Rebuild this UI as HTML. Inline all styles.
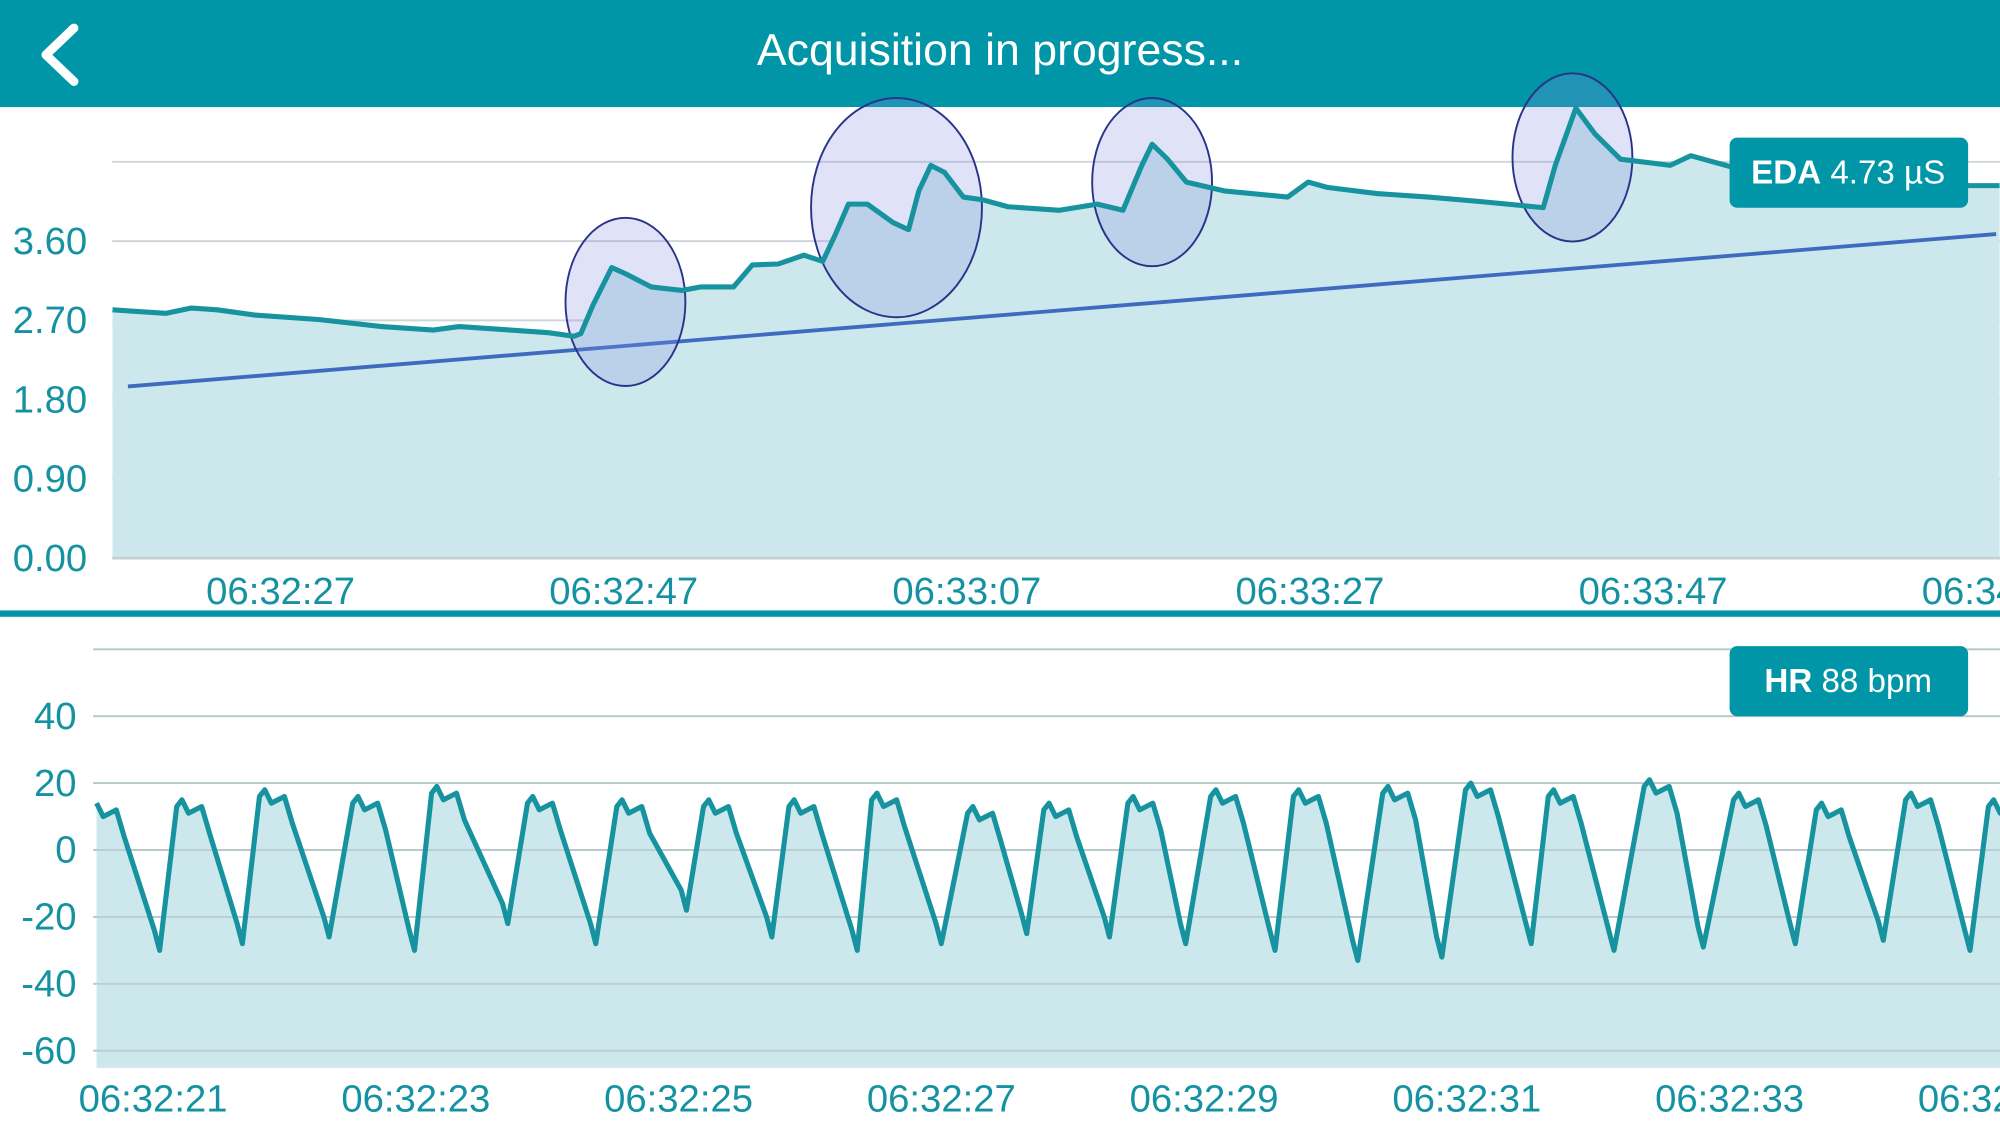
<!DOCTYPE html>
<html><head><meta charset="utf-8">
<style>
html,body{margin:0;padding:0;background:#fff;overflow:hidden}
svg{display:block}
text{font-family:"Liberation Sans",sans-serif}
</style></head>
<body>
<svg id="root" width="2000" height="1124" viewBox="0 0 1568 882" preserveAspectRatio="none" xmlns="http://www.w3.org/2000/svg">
  <rect x="0" y="0" width="1568" height="84" fill="#0096a7"/>
  <path d="M58 22 L36 43 L58 64" stroke="#fff" stroke-width="7" fill="none" stroke-linecap="round" stroke-linejoin="round"/>
  <text x="784" y="51" text-anchor="middle" fill="#fff" font-size="35">Acquisition in progress...</text>
  <g id="eda"></g>
  <rect x="0" y="479" width="1568" height="5" fill="#0096a7"/>
  <g id="hr"></g>
</svg>
<script>
// ---- EDA data (seconds after 06:32:00, value µS) ----
const edaTimes = [17.2,20.3,21.8,23.3,25.5,29.2,32.9,35.9,37.4,40.4,42.6,44.1,44.5,45.2,46.3,47.1,48.6,50.4,51.5,53.4,54.5,56.0,57.5,58.6,59.3,60.1,61.2,62.7,63.6,64.2,64.9,65.7,66.8,67.9,69.4,72.4,74.6,76.1,77.2,77.8,78.7,79.8,82.0,85.7,86.9,88.0,90.9,93.9,96.9,100.6,101.3,102.5,103.6,105.1,108.0,109.2,110.3,111.8,114.7,118.4,122.2,125.1,127.2];
const edaValues = [2.82,2.78,2.84,2.82,2.76,2.71,2.63,2.59,2.63,2.59,2.56,2.52,2.55,2.87,3.30,3.23,3.08,3.04,3.08,3.08,3.33,3.34,3.44,3.37,3.66,4.02,4.02,3.81,3.73,4.17,4.46,4.38,4.10,4.07,3.99,3.95,4.02,3.95,4.46,4.70,4.53,4.27,4.17,4.10,4.27,4.21,4.14,4.10,4.05,3.98,4.46,5.11,4.82,4.53,4.46,4.57,4.51,4.43,4.31,4.27,4.27,4.23,4.23];
const edaTrendTimes = [18.1,127.0];
const edaTrendValues = [1.95,3.68];
const edaEventTimes = [47.1,62.9,77.8,102.3];
const edaEventValues = [2.91,3.98,4.27,4.55];
const edaYTicks = [0,0.9,1.8,2.7,3.6,4.5];
const edaYLabels = ["0.00","0.90","1.80","2.70","3.60",""];
const edaXTicks = [27,47,67,87,107,127];
const edaXLabels = ["06:32:27","06:32:47","06:33:07","06:33:27","06:33:47","06:34:07"];
// ---- HR data (seconds after 06:32:00) ----
const hrStartTime = 20.53, hrStartValue = 12;
const hrPeakTimes = [20.59,21.24,21.87,22.58,23.18,23.91,24.59,25.25,25.90,26.53,27.26,27.84,28.48,29.11,29.74,30.42,31.05,31.68,32.41,33.09,33.72,34.40,35.03];
const hrPeakValues = [14,15,18,16,19,16,15,15,15,17,13,14,16,18,18,19,20,18,21,17,14,17,15];
const hrTroughTimes = [21.05,21.68,22.34,22.99,23.70,24.37,25.06,25.71,26.36,27.00,27.65,28.28,28.86,29.54,30.17,30.81,31.49,32.12,32.80,33.50,34.17,34.83];
const hrTroughValues = [-30,-28,-26,-30,-22,-28,-18,-26,-30,-28,-25,-26,-28,-30,-33,-32,-28,-30,-29,-28,-27,-30,-35];
const hrYTicks = [-60,-40,-20,0,20,40,60];
const hrYLabels = ["-60","-40","-20","0","20","40",""];
const hrXTicks = [21,23,25,27,29,31,33,35];
const hrXLabels = ["06:32:21","06:32:23","06:32:25","06:32:27","06:32:29","06:32:31","06:32:33","06:32:35"];

const NS="http://www.w3.org/2000/svg";
const TEAL="#17939f", LABEL="#1592a2", FILL="#cde8ec", GRID="#cfd6d8";
function mk(parent,tag,attrs){const e=document.createElementNS(NS,tag);for(const k in attrs)e.setAttribute(k,attrs[k]);parent.appendChild(e);return e;}

// EDA
(function(){
  const g=document.getElementById('eda');
  const x=t=>220+(t-27)*13.45, y=v=>438-v/0.9*62.2;
  const L=88,R=1568;
  edaYTicks.forEach((v,i)=>{
    const l=mk(g,'line',{x1:L,x2:R,y1:y(v),y2:y(v),stroke:GRID,'stroke-width':1.5});
    
    
    if(edaYLabels[i]){const t=mk(g,'text',{x:10,y:y(v)+10,fill:LABEL,'font-size':30});t.textContent=edaYLabels[i];
      
      }
  });
  let d=`M${x(edaTimes[0])},${y(0)}`;edaTimes.forEach((t,i)=>d+=` L${x(t)},${y(edaValues[i])}`);
  d+=` L${x(edaTimes[edaTimes.length-1])},${y(0)} Z`;
  const area=mk(g,'path',{d:d,fill:FILL});
  
  
  const tr=mk(g,'line',{x1:x(edaTrendTimes[0]),y1:y(edaTrendValues[0]),x2:x(edaTrendTimes[1]),y2:y(edaTrendValues[1]),stroke:'#3e6bc0','stroke-width':3});
  
  
  edaEventTimes.forEach((t,i)=>{
    const big=i===1;
    const e=mk(g,'ellipse',{cx:x(t),cy:y(edaEventValues[i]),rx:big?67:47,ry:big?86:66,fill:'rgba(130,140,225,0.25)',stroke:'#28338a','stroke-width':1.5});
    
    
  });
  let ld='';edaTimes.forEach((t,i)=>ld+=(i?' L':'M')+x(t)+','+y(edaValues[i]));
  const line=mk(g,'path',{d:ld,fill:'none',stroke:TEAL,'stroke-width':4,'stroke-linejoin':'round'});
  
  
  const ax=mk(g,'line',{x1:L,x2:R,y1:438,y2:438,stroke:'#c5cfd2','stroke-width':2});
  
  
  edaXTicks.forEach((t,i)=>{const e=mk(g,'text',{x:x(t),y:474,'text-anchor':'middle',fill:LABEL,'font-size':30});e.textContent=edaXLabels[i];
    
    });
  const b=mk(g,'rect',{x:1356,y:108,width:187,height:55,rx:6,fill:'#0096a7'});
  
  
  const bt=mk(g,'text',{x:1449,y:144,'text-anchor':'middle',fill:'#fff','font-size':26});
  bt.innerHTML='<tspan font-weight="bold">EDA</tspan> 4.73 µS';
  
  
})();

// HR
(function(){
  const g=document.getElementById('hr');
  const x=t=>120+(t-21)*103, y=v=>667-v/20*52.5;
  const L=73,R=1568,B=838;
  hrYTicks.forEach((v,i)=>{
    const l=mk(g,'line',{x1:L,x2:R,y1:y(v),y2:y(v),stroke:GRID,'stroke-width':1.5});
    
    
    if(hrYLabels[i]){const t=mk(g,'text',{x:60,y:y(v)+10,'text-anchor':'end',fill:LABEL,'font-size':30});t.textContent=hrYLabels[i];
      
      }
  });
  const pts=[[hrStartTime,hrStartValue]];
  hrPeakTimes.forEach((T,i)=>{
    const p=hrPeakValues[i];
    pts.push([T-0.06,p-2],[T-0.02,p],[T+0.03,p-4],[T+0.08,p-3],[T+0.13,p-2],[T+0.19,p-10]);
    if(i<hrTroughTimes.length)pts.push([hrTroughTimes[i]-0.04,hrTroughValues[i]+6],[hrTroughTimes[i],hrTroughValues[i]]);
  });
  const f=pts.filter(p=>x(p[0])>=L-1);
  const clip=mk(g,'clipPath',{id:'hrclip'});mk(clip,'rect',{x:L,y:480,width:R-L,height:400});
  const cg=mk(g,'g',{'clip-path':'url(#hrclip)'});
  let d=`M${x(f[0][0])},${B}`;f.forEach(p=>d+=` L${x(p[0])},${y(p[1])}`);d+=` L${x(f[f.length-1][0])},${B} Z`;
  const area=mk(cg,'path',{d:d,fill:FILL});
  
  
  hrYTicks.forEach(v=>{const l=mk(cg,'line',{x1:L,x2:R,y1:y(v),y2:y(v),stroke:'rgba(170,190,195,0.6)','stroke-width':1.5});
    
    });
  let ld='';f.forEach((p,i)=>ld+=(i?' L':'M')+x(p[0])+','+y(p[1]));
  const line=mk(cg,'path',{d:ld,fill:'none',stroke:TEAL,'stroke-width':4,'stroke-linejoin':'round'});
  
  
  hrXTicks.forEach((t,i)=>{const e=mk(g,'text',{x:x(t),y:872,'text-anchor':'middle',fill:LABEL,'font-size':30});e.textContent=hrXLabels[i];
    
    });
  const b=mk(g,'rect',{x:1356,y:507,width:187,height:55,rx:6,fill:'#0096a7'});
  
  
  const bt=mk(g,'text',{x:1449,y:543,'text-anchor':'middle',fill:'#fff','font-size':26});
  bt.innerHTML='<tspan font-weight="bold">HR</tspan> 88 bpm';
  
  
})();
</script>
</body></html>
